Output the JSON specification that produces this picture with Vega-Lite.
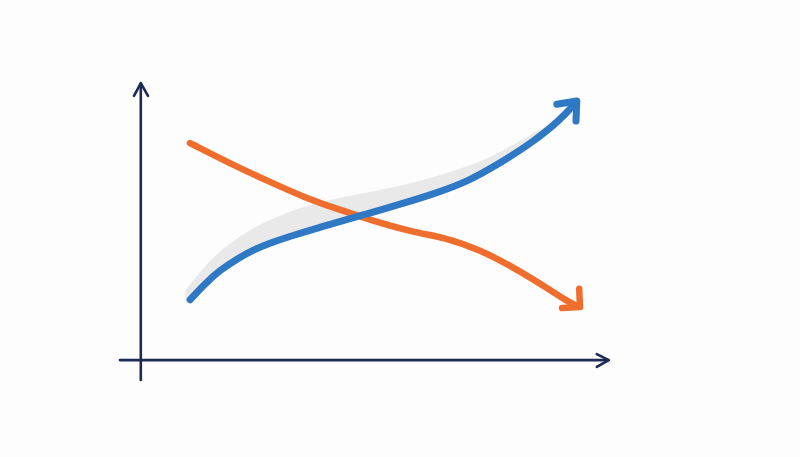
{
  "$schema": "https://vega.github.io/schema/vega-lite/v6.json",
  "description": "Crossing trends: rising blue curve with shadow, falling orange curve, hand-drawn axes with arrows",
  "width": 800,
  "height": 457,
  "autosize": {"type": "fit", "contains": "padding"},
  "padding": 0,
  "background": "#fdfdfd",
  "config": {"view": {"stroke": null}},
  "datasets": {
    "band": [
      {"x": 23.2, "top": 36.5, "bottom": 34.4},
      {"x": 25.0, "top": 40.5, "bottom": 36.8},
      {"x": 27.5, "top": 45.3, "bottom": 40.9},
      {"x": 31.6, "top": 50.3, "bottom": 45.3},
      {"x": 35.9, "top": 53.6, "bottom": 48.1},
      {"x": 40.0, "top": 55.8, "bottom": 50.3},
      {"x": 44.1, "top": 57.3, "bottom": 52.3},
      {"x": 50.0, "top": 59.3, "bottom": 55.3},
      {"x": 54.1, "top": 61.1, "bottom": 57.5},
      {"x": 58.4, "top": 63.5, "bottom": 60.2},
      {"x": 62.5, "top": 66.5, "bottom": 64.3},
      {"x": 66.6, "top": 70.9, "bottom": 68.9},
      {"x": 69.6, "top": 73.5, "bottom": 73.2}
    ],
    "axes": [
      {"part": "yaxis", "order": 1, "x": 17.6, "y": 16.85},
      {"part": "yaxis", "order": 2, "x": 17.6, "y": 81.6},
      {"part": "yhead", "order": 1, "x": 16.75, "y": 79.0},
      {"part": "yhead", "order": 2, "x": 17.6, "y": 81.8},
      {"part": "yhead", "order": 3, "x": 18.5, "y": 79.0},
      {"part": "xaxis", "order": 1, "x": 15.0, "y": 21.2},
      {"part": "xaxis", "order": 2, "x": 76.0, "y": 21.2},
      {"part": "xhead", "order": 1, "x": 74.6, "y": 22.5},
      {"part": "xhead", "order": 2, "x": 76.1, "y": 21.2},
      {"part": "xhead", "order": 3, "x": 74.6, "y": 19.7}
    ],
    "orange": [
      {"order": 1, "x": 23.75, "y": 68.7},
      {"order": 2, "x": 29.6, "y": 63.5},
      {"order": 3, "x": 33.75, "y": 60.2},
      {"order": 4, "x": 37.9, "y": 56.9},
      {"order": 5, "x": 42.1, "y": 54.3},
      {"order": 6, "x": 46.25, "y": 51.9},
      {"order": 7, "x": 51.6, "y": 49.2},
      {"order": 8, "x": 55.9, "y": 47.9},
      {"order": 9, "x": 60.0, "y": 45.3},
      {"order": 10, "x": 64.1, "y": 41.6},
      {"order": 11, "x": 68.4, "y": 37.0},
      {"order": 12, "x": 71.25, "y": 33.7},
      {"order": 13, "x": 72.4, "y": 32.9}
    ],
    "orangeHead": [
      {"order": 1, "x": 72.4, "y": 36.8},
      {"order": 2, "x": 72.5, "y": 32.8},
      {"order": 3, "x": 70.25, "y": 32.6}
    ],
    "blue": [
      {"order": 1, "x": 23.75, "y": 34.4},
      {"order": 2, "x": 25.6, "y": 37.9},
      {"order": 3, "x": 27.5, "y": 40.9},
      {"order": 4, "x": 29.6, "y": 43.3},
      {"order": 5, "x": 31.6, "y": 45.3},
      {"order": 6, "x": 33.75, "y": 46.8},
      {"order": 7, "x": 35.9, "y": 48.1},
      {"order": 8, "x": 40.0, "y": 50.3},
      {"order": 9, "x": 44.1, "y": 52.3},
      {"order": 10, "x": 50.0, "y": 55.3},
      {"order": 11, "x": 54.1, "y": 57.5},
      {"order": 12, "x": 58.4, "y": 60.2},
      {"order": 13, "x": 62.5, "y": 64.3},
      {"order": 14, "x": 66.6, "y": 68.9},
      {"order": 15, "x": 70.0, "y": 73.7},
      {"order": 16, "x": 72.0, "y": 77.6}
    ],
    "blueHead": [
      {"order": 1, "x": 69.6, "y": 77.2},
      {"order": 2, "x": 72.1, "y": 77.9},
      {"order": 3, "x": 72.0, "y": 73.5}
    ]
  },
  "encoding": {
    "x": {"field": "x", "type": "quantitative", "scale": {"domain": [0, 100], "nice": false, "zero": false}, "axis": null},
    "y": {"field": "y", "type": "quantitative", "scale": {"domain": [0, 100], "nice": false, "zero": false}, "axis": null},
    "order": {"field": "order", "type": "quantitative"}
  },
  "layer": [
    {
      "data": {"name": "band"},
      "mark": {"type": "area", "color": "#e9e9e9", "interpolate": "basis"},
      "encoding": {
        "y": {"field": "top", "type": "quantitative", "scale": {"domain": [0, 100], "nice": false, "zero": false}, "axis": null},
        "y2": {"field": "bottom"},
        "order": null
      }
    },
    {
      "data": {"name": "axes"},
      "mark": {"type": "line", "color": "#1c2b56", "strokeWidth": 2.6, "strokeCap": "round", "strokeJoin": "round"},
      "encoding": {"detail": {"field": "part"}}
    },
    {
      "data": {"name": "orange"},
      "mark": {"type": "line", "color": "#f06e2d", "strokeWidth": 6.5, "strokeCap": "round", "interpolate": "basis"},
      "encoding": {}
    },
    {
      "data": {"name": "orangeHead"},
      "mark": {"type": "line", "color": "#f06e2d", "strokeWidth": 6.5, "strokeCap": "round", "strokeJoin": "round"},
      "encoding": {}
    },
    {
      "data": {"name": "blue"},
      "mark": {"type": "line", "color": "#2f78c4", "strokeWidth": 7, "strokeCap": "round", "interpolate": "basis"},
      "encoding": {}
    },
    {
      "data": {"name": "blueHead"},
      "mark": {"type": "line", "color": "#2f78c4", "strokeWidth": 7, "strokeCap": "round", "strokeJoin": "round"},
      "encoding": {}
    }
  ]
}
